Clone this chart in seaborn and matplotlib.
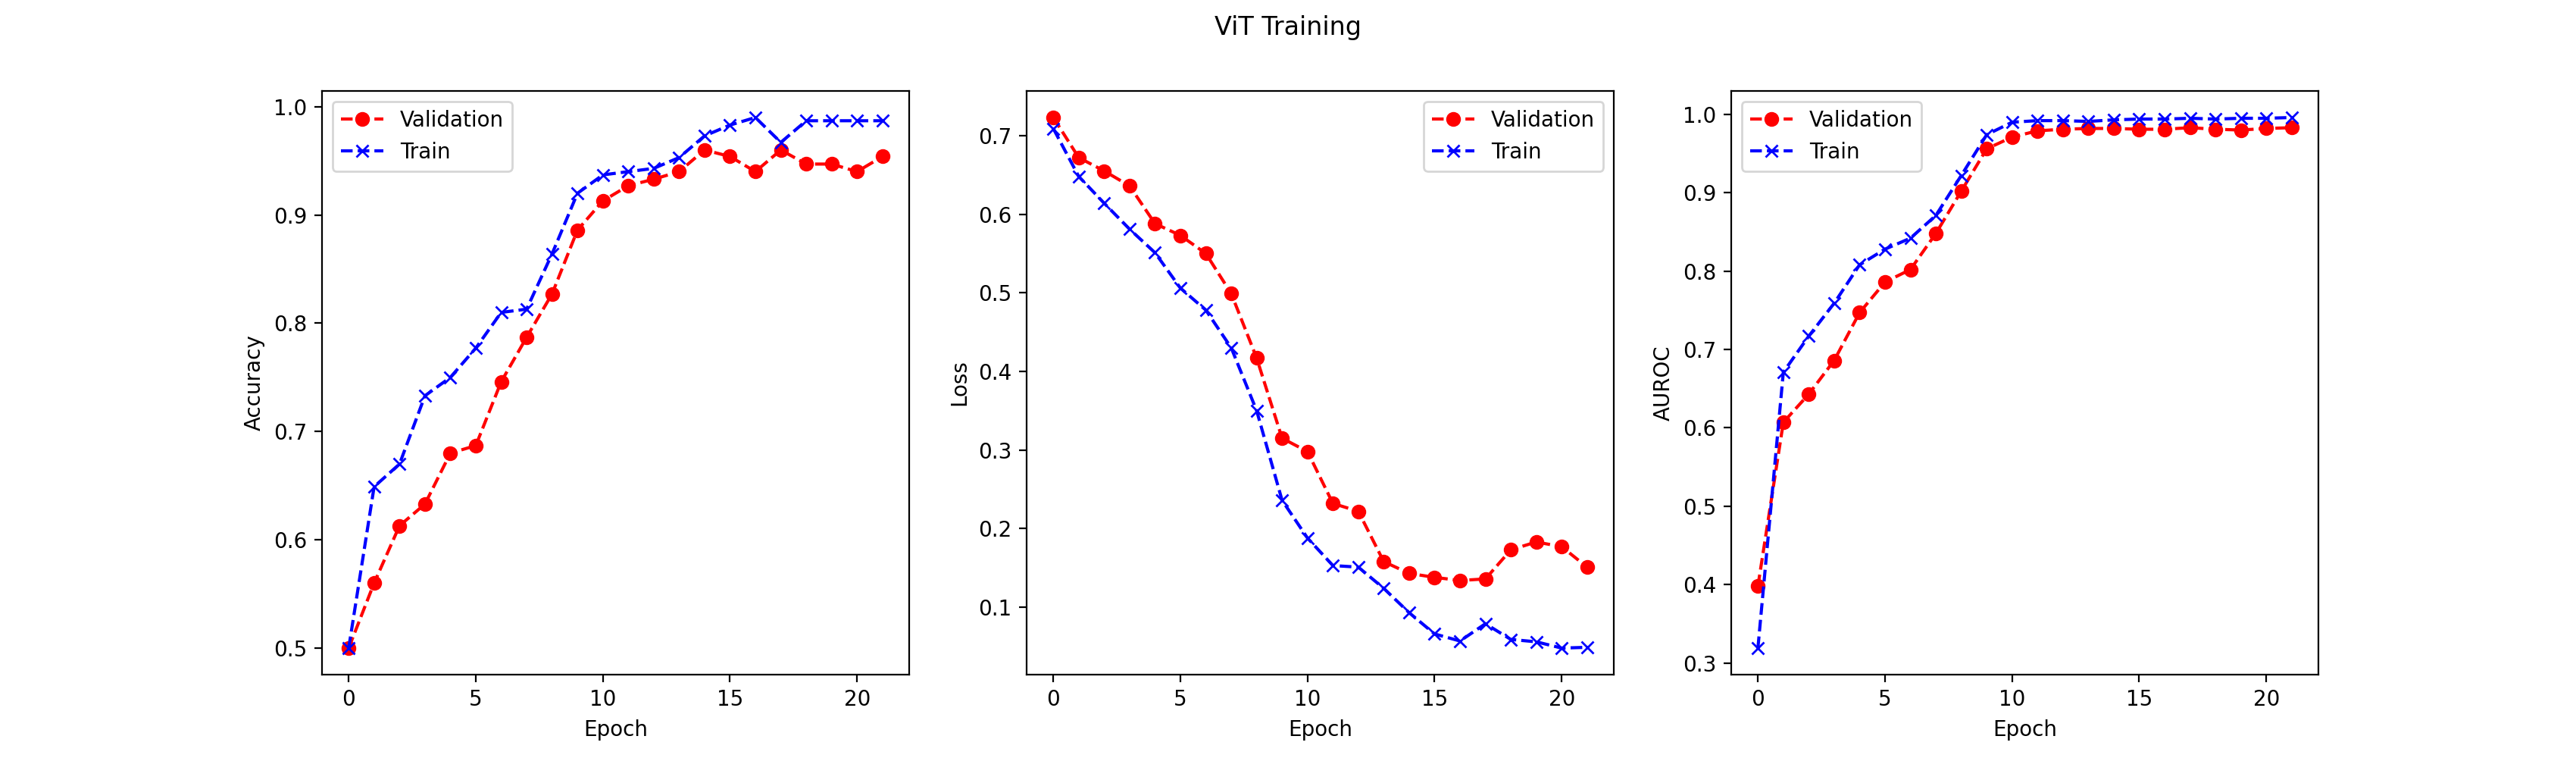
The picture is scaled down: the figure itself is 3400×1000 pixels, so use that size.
import matplotlib
matplotlib.use("Agg")
import matplotlib.pyplot as plt
import seaborn as sns
import numpy as np

epochs = list(range(22))

val_acc = [0.500, 0.560, 0.613, 0.633, 0.680, 0.687, 0.746, 0.787, 0.827, 0.886, 0.913,
           0.927, 0.933, 0.940, 0.960, 0.954, 0.940, 0.960, 0.947, 0.947, 0.940, 0.954]
train_acc = [0.500, 0.649, 0.670, 0.733, 0.750, 0.777, 0.810, 0.813, 0.864, 0.920, 0.937,
             0.940, 0.943, 0.953, 0.973, 0.983, 0.990, 0.967, 0.987, 0.987, 0.987, 0.987]

val_loss = [0.723, 0.672, 0.655, 0.636, 0.588, 0.573, 0.550, 0.499, 0.417, 0.315, 0.298,
            0.232, 0.222, 0.158, 0.143, 0.138, 0.134, 0.136, 0.173, 0.183, 0.177, 0.151]
train_loss = [0.709, 0.648, 0.614, 0.581, 0.551, 0.506, 0.478, 0.430, 0.350, 0.236, 0.188,
              0.153, 0.151, 0.124, 0.093, 0.066, 0.057, 0.079, 0.059, 0.056, 0.048, 0.049]

val_auroc = [0.398, 0.607, 0.643, 0.686, 0.747, 0.786, 0.802, 0.848, 0.902, 0.956, 0.971,
             0.979, 0.981, 0.982, 0.982, 0.981, 0.981, 0.983, 0.981, 0.980, 0.982, 0.983]
train_auroc = [0.319, 0.671, 0.717, 0.759, 0.808, 0.828, 0.842, 0.871, 0.922, 0.974, 0.990,
               0.992, 0.992, 0.991, 0.993, 0.994, 0.994, 0.995, 0.994, 0.995, 0.995, 0.996]

panels = [
    ("Accuracy", val_acc, train_acc, "upper left"),
    ("Loss", val_loss, train_loss, "upper right"),
    ("AUROC", val_auroc, train_auroc, "upper left"),
]

fig, axes = plt.subplots(1, 3, figsize=(17, 5), dpi=200)
fig.suptitle("ViT Training")

for ax, (name, val, train, loc) in zip(axes, panels):
    sns.lineplot(x=epochs, y=val, ax=ax, color="r", linestyle="--", marker="o",
                 markersize=6, markeredgecolor="r", markeredgewidth=1.0, label="Validation")
    sns.lineplot(x=epochs, y=train, ax=ax, color="b", linestyle="--", marker="x",
                 markersize=6, markeredgecolor="b", markeredgewidth=1.0, label="Train")
    ax.set_xlabel("Epoch")
    ax.set_ylabel(name)
    ax.legend(loc=loc)

fig.savefig("out.png", dpi=200)
